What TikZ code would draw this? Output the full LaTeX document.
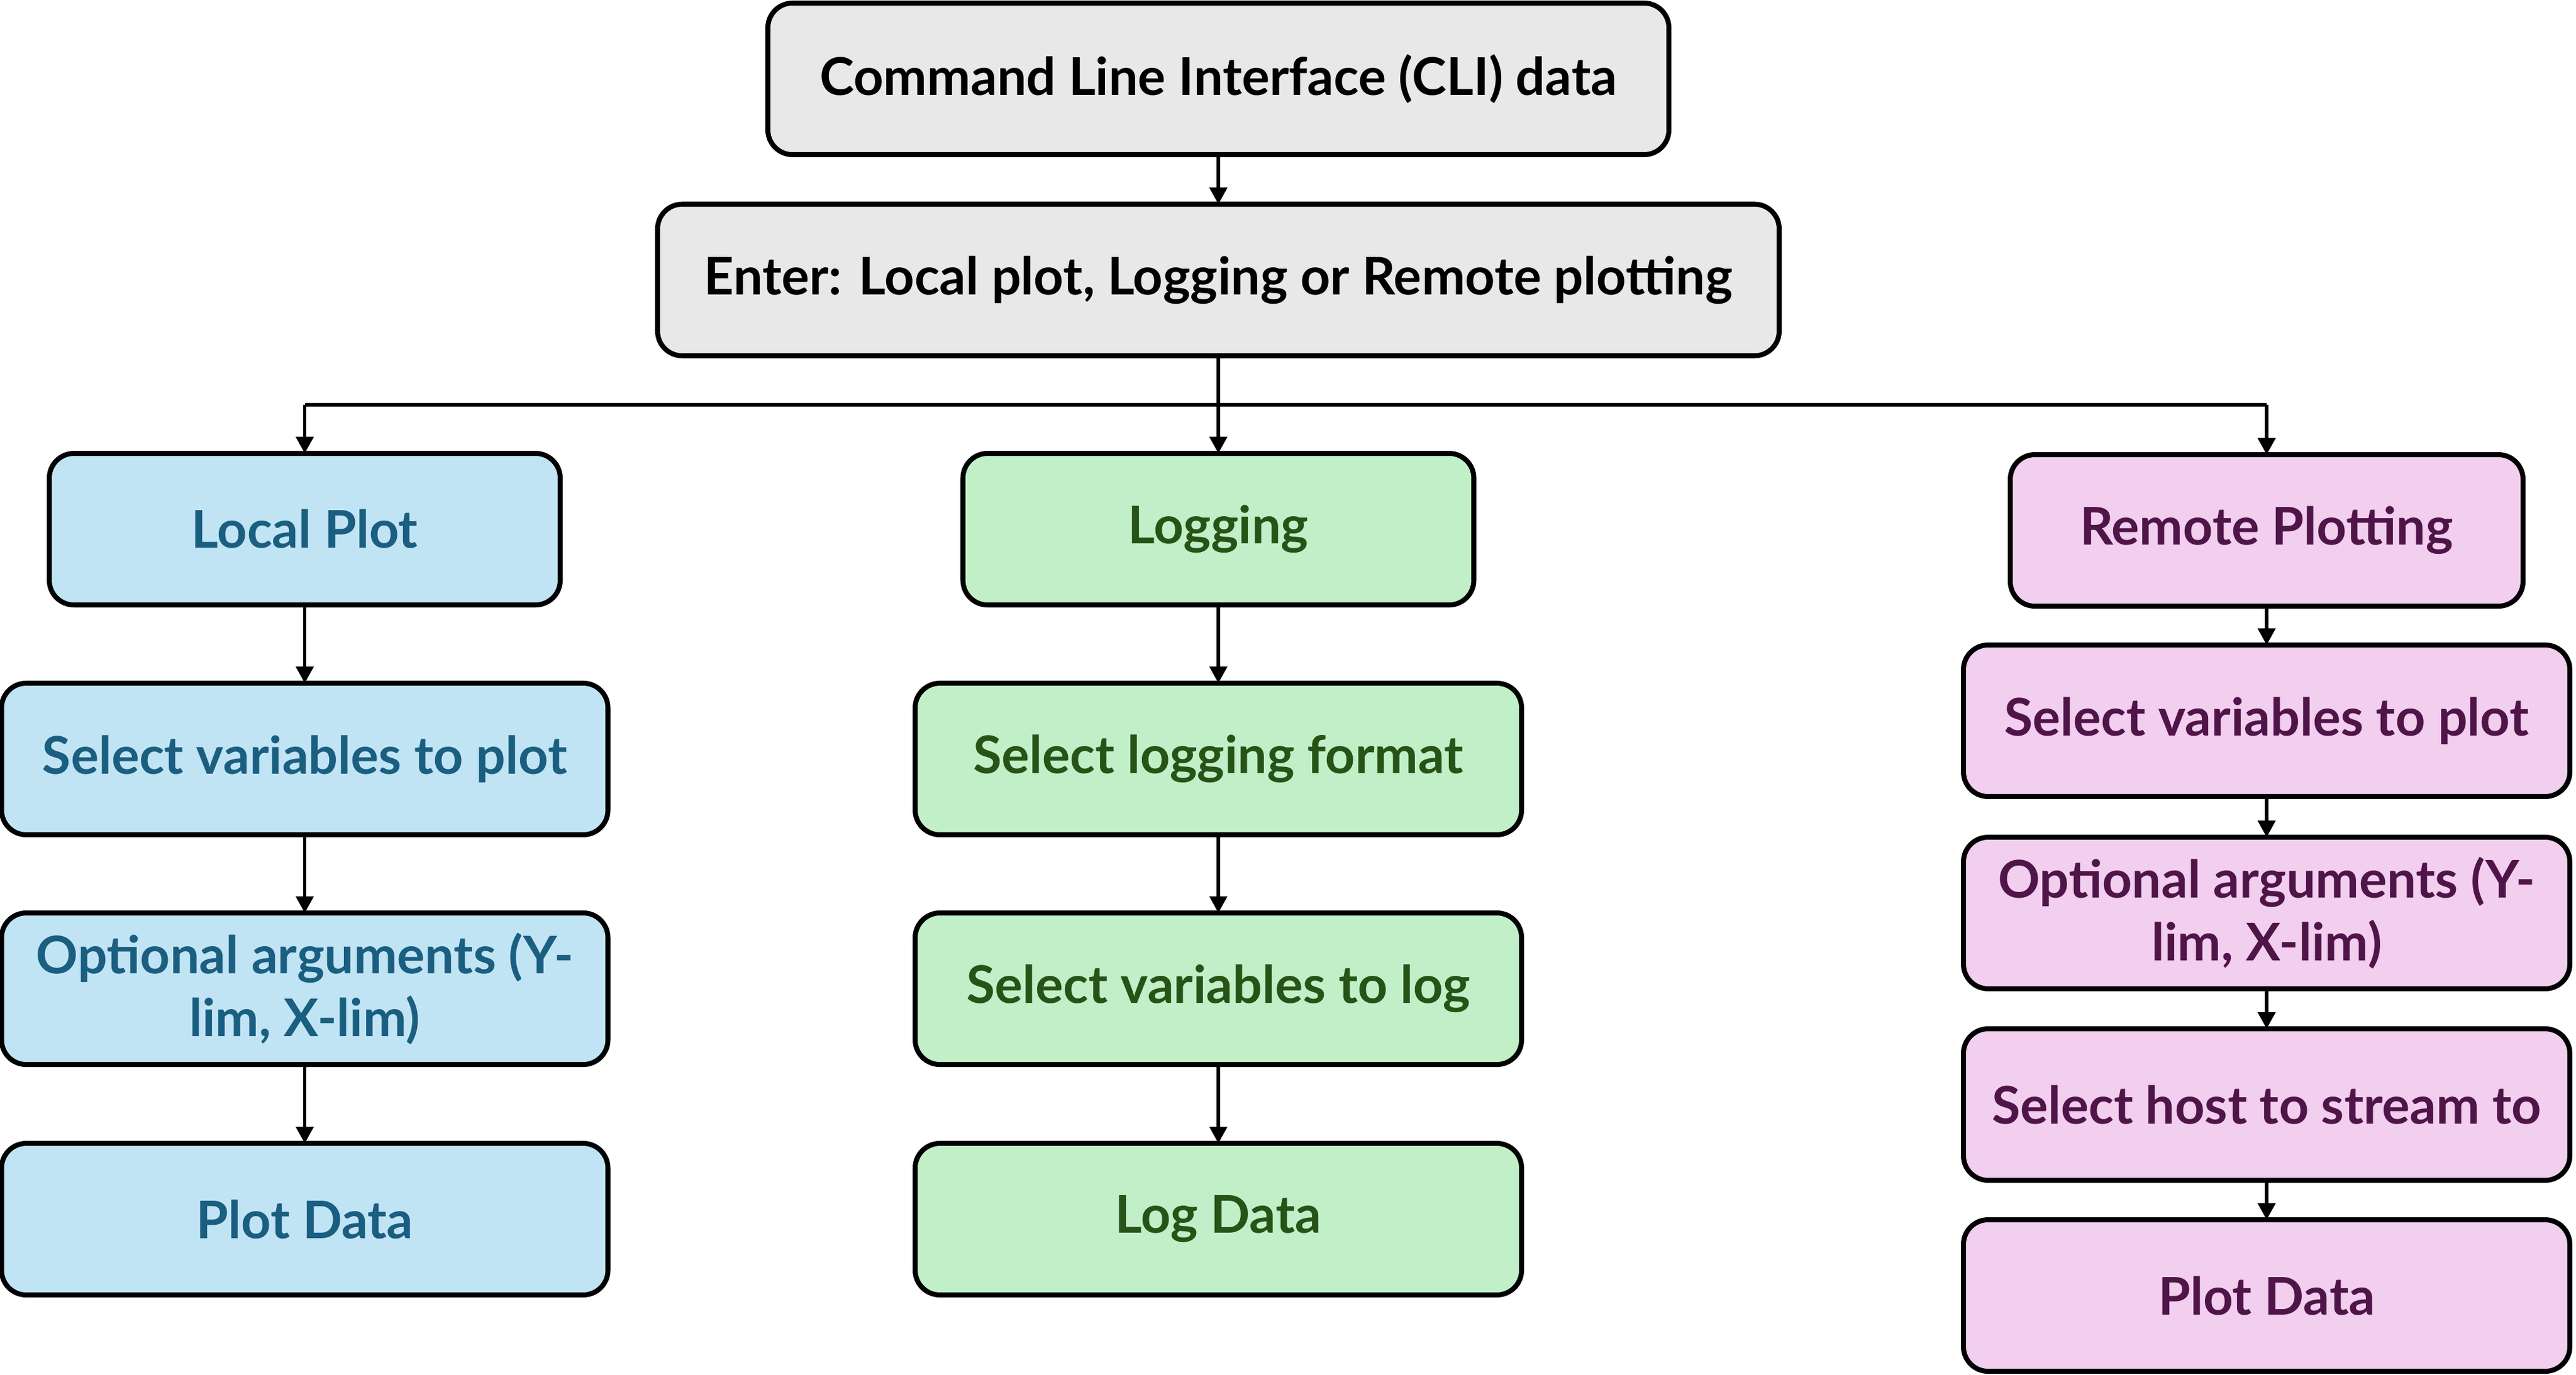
\documentclass[tikz,border=0pt]{standalone}
\usepackage{fontspec}
\setmainfont{Lato}
\usetikzlibrary{arrows.meta}
\definecolor{grayfill}{HTML}{E8E8E8}
\definecolor{bluefill}{HTML}{C1E4F5}
\definecolor{bluetext}{HTML}{1A5E80}
\definecolor{greenfill}{HTML}{C1F0C8}
\definecolor{greentext}{HTML}{275317}
\definecolor{pinkfill}{HTML}{F2CEEF}
\definecolor{pinktext}{HTML}{4F1548}
\tikzset{
  box/.style={draw=black, line width=2.3pt, rounded corners=0.4cm, align=center,
    font=\fontsize{24}{29}\selectfont\bfseries, inner sep=0pt, outer sep=0pt,
    minimum height=2.46cm},
  graybox/.style={box, fill=grayfill, text=black},
  bluebox/.style={box, fill=bluefill, text=bluetext},
  greenbox/.style={box, fill=greenfill, text=greentext},
  pinkbox/.style={box, fill=pinkfill, text=pinktext},
  arr/.style={line width=1.6pt, -{Triangle[length=0.27cm, width=0.28cm]}},
  ln/.style={line width=1.6pt}
}
\begin{document}
\begin{tikzpicture}
\useasboundingbox (0,0) rectangle (41.8,-22.32);
% top
\node[graybox, minimum width=14.62cm] (cli) at (19.77,-1.28) {Command Line Interface (CLI) data};
\node[graybox, minimum width=18.2cm] (enter) at (19.77,-4.545) {Enter: Local plot, Logging or Remote plotting};
% left column
\node[bluebox, minimum width=8.29cm] (lp) at (4.945,-8.59) {Local Plot};
\node[bluebox, minimum width=9.84cm] (lsel) at (4.945,-12.32) {Select variables to plot};
\node[bluebox, minimum width=9.84cm] (lopt) at (4.945,-16.05) {Optional arguments (Y-\\lim, X-lim)};
\node[bluebox, minimum width=9.84cm] (lplot) at (4.945,-19.79) {Plot Data};
% middle column
\node[greenbox, minimum width=8.29cm] (lg) at (19.77,-8.59) {Logging};
\node[greenbox, minimum width=9.84cm] (gfmt) at (19.77,-12.32) {Select logging format};
\node[greenbox, minimum width=9.84cm] (gsel) at (19.77,-16.05) {Select variables to log};
\node[greenbox, minimum width=9.84cm] (glog) at (19.77,-19.79) {Log Data};
% right column
\node[pinkbox, minimum width=8.32cm] (rp) at (36.78,-8.61) {Remote Plotting};
\node[pinkbox, minimum width=9.84cm] (rsel) at (36.78,-11.70) {Select variables to plot};
\node[pinkbox, minimum width=9.84cm] (ropt) at (36.78,-14.82) {Optional arguments (Y-\\lim, X-lim)};
\node[pinkbox, minimum width=9.84cm] (rhost) at (36.78,-17.93) {Select host to stream to};
\node[pinkbox, minimum width=9.84cm] (rplot) at (36.78,-21.03) {Plot Data};
% bus
\coordinate (bus) at (19.77,-6.57);
\draw[arr] (cli) -- (enter);
\draw[arr] (enter) -- (lg);
\draw[ln] (lp.north |- bus) -- (rp.north |- bus);
\draw[arr] (lp.north |- bus) -- (lp.north);
\draw[arr] (rp.north |- bus) -- (rp.north);
% column arrows
\draw[arr] (lp) -- (lsel);
\draw[arr] (lsel) -- (lopt);
\draw[arr] (lopt) -- (lplot);
\draw[arr] (lg) -- (gfmt);
\draw[arr] (gfmt) -- (gsel);
\draw[arr] (gsel) -- (glog);
\draw[arr] (rp) -- (rsel);
\draw[arr] (rsel) -- (ropt);
\draw[arr] (ropt) -- (rhost);
\draw[arr] (rhost) -- (rplot);
\end{tikzpicture}
\end{document}
